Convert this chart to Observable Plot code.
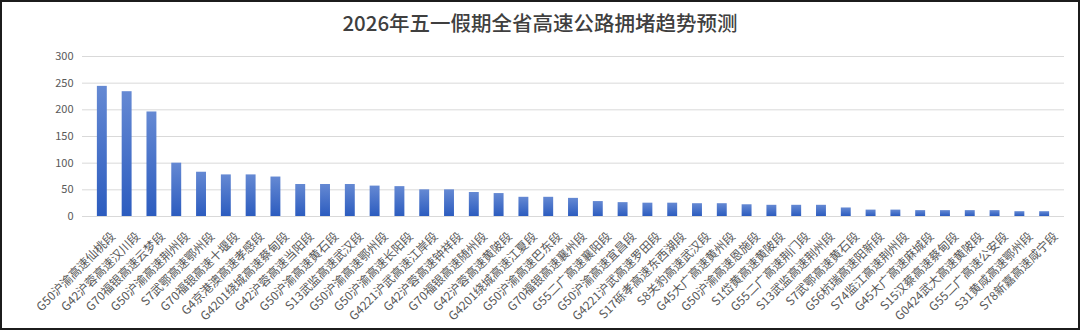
<!DOCTYPE html>
<html><head><meta charset="utf-8">
<script src="https://cdn.jsdelivr.net/npm/d3@7"></script>
<script src="https://cdn.jsdelivr.net/npm/@observablehq/plot@0.6"></script>
<style>
html,body{margin:0;padding:0;background:#fff;}
#frame{width:1080px;height:330px;box-sizing:border-box;border:2px solid #1c1c1c;background:#fff;overflow:hidden;}
#title{height:38px;line-height:40px;text-align:center;font-family:"Noto Sans CJK SC",sans-serif;font-size:20.5px;color:#3f3f3f;font-weight:500;}
#chart svg{display:block;}
</style></head><body>
<div id="frame"><div id="title">2026年五一假期全省高速公路拥堵趋势预测</div><div id="chart"></div></div>
<script>
const roads = [
 "G50沪渝高速仙桃段","G42沪蓉高速汉川段","G70福银高速云梦段","G50沪渝高速荆州段","S7武鄂高速鄂州段",
 "G70福银高速十堰段","G4京港澳高速孝感段","G4201绕城高速蔡甸段","G42沪蓉高速当阳段","G50沪渝高速黄石段",
 "S13武监高速武汉段","G50沪渝高速鄂州段","G50沪渝高速长阳段","G4221沪武高速江岸段","G42沪蓉高速钟祥段",
 "G70福银高速随州段","G42沪蓉高速黄陂段","G4201绕城高速江夏段","G50沪渝高速巴东段","G70福银高速襄州段",
 "G55二广高速襄阳段","G50沪渝高速宜昌段","G4221沪武高速罗田段","S17砾孝高速东西湖段","S8关豹高速武汉段",
 "G45大广高速黄州段","G50沪渝高速恩施段","S1岱黄高速黄陂段","G55二广高速荆门段","S13武监高速荆州段",
 "S7武鄂高速黄石段","G56杭瑞高速阳新段","S74监江高速荆州段","G45大广高速麻城段","S15汉蔡高速蔡甸段",
 "G0424武大高速黄陂段","G55二广高速公安段","S31黄咸高速鄂州段","S78新嘉高速咸宁段"
];
const counts = [244,234,196,100,83,78,78,74,60,60,60,57,56,50,50,45,43,36,36,34,28,26,25,25,24,24,22,21,21,21,16,12,12,11,11,11,11,9,9];
const yTicks = [0,50,100,150,200,250,300];

const data = roads.map((r,i)=>({road:r,value:counts[i]}));
const chart = Plot.plot({
  width:1076, height:288,
  marginTop:16, marginBottom:112, marginLeft:80, marginRight:14,
  style:{fontFamily:"'Noto Sans CJK SC', sans-serif", fontSize:"11px", color:"#595959", background:"#fff", overflow:"visible"},
  x:{domain:roads, padding:0.6, label:null},
  y:{domain:[0,300], label:null},
  marks:[
    Plot.gridY(yTicks,{stroke:"#d9d9d9", strokeOpacity:1}),
    Plot.barY(data,{x:"road", y:"value", fill:"url(#barGrad)"}),
    Plot.axisY(yTicks,{tickSize:0, tickPadding:9, fontSize:11, fill:"#595959", label:null}),
    Plot.axisX({tickSize:0, tickPadding:6, tickRotate:-45, fontSize:12, fill:"#595959", label:null, dx:11, dy:12})
  ]
});
const defs = d3.select(chart).insert("defs",":first-child");
const g = defs.append("linearGradient").attr("id","barGrad").attr("x1",0).attr("y1",0).attr("x2",0).attr("y2",1);
g.append("stop").attr("offset","0%").attr("stop-color","#6589d3");
g.append("stop").attr("offset","100%").attr("stop-color","#2c5cbf");
document.getElementById("chart").appendChild(chart);
</script>
</body></html>
